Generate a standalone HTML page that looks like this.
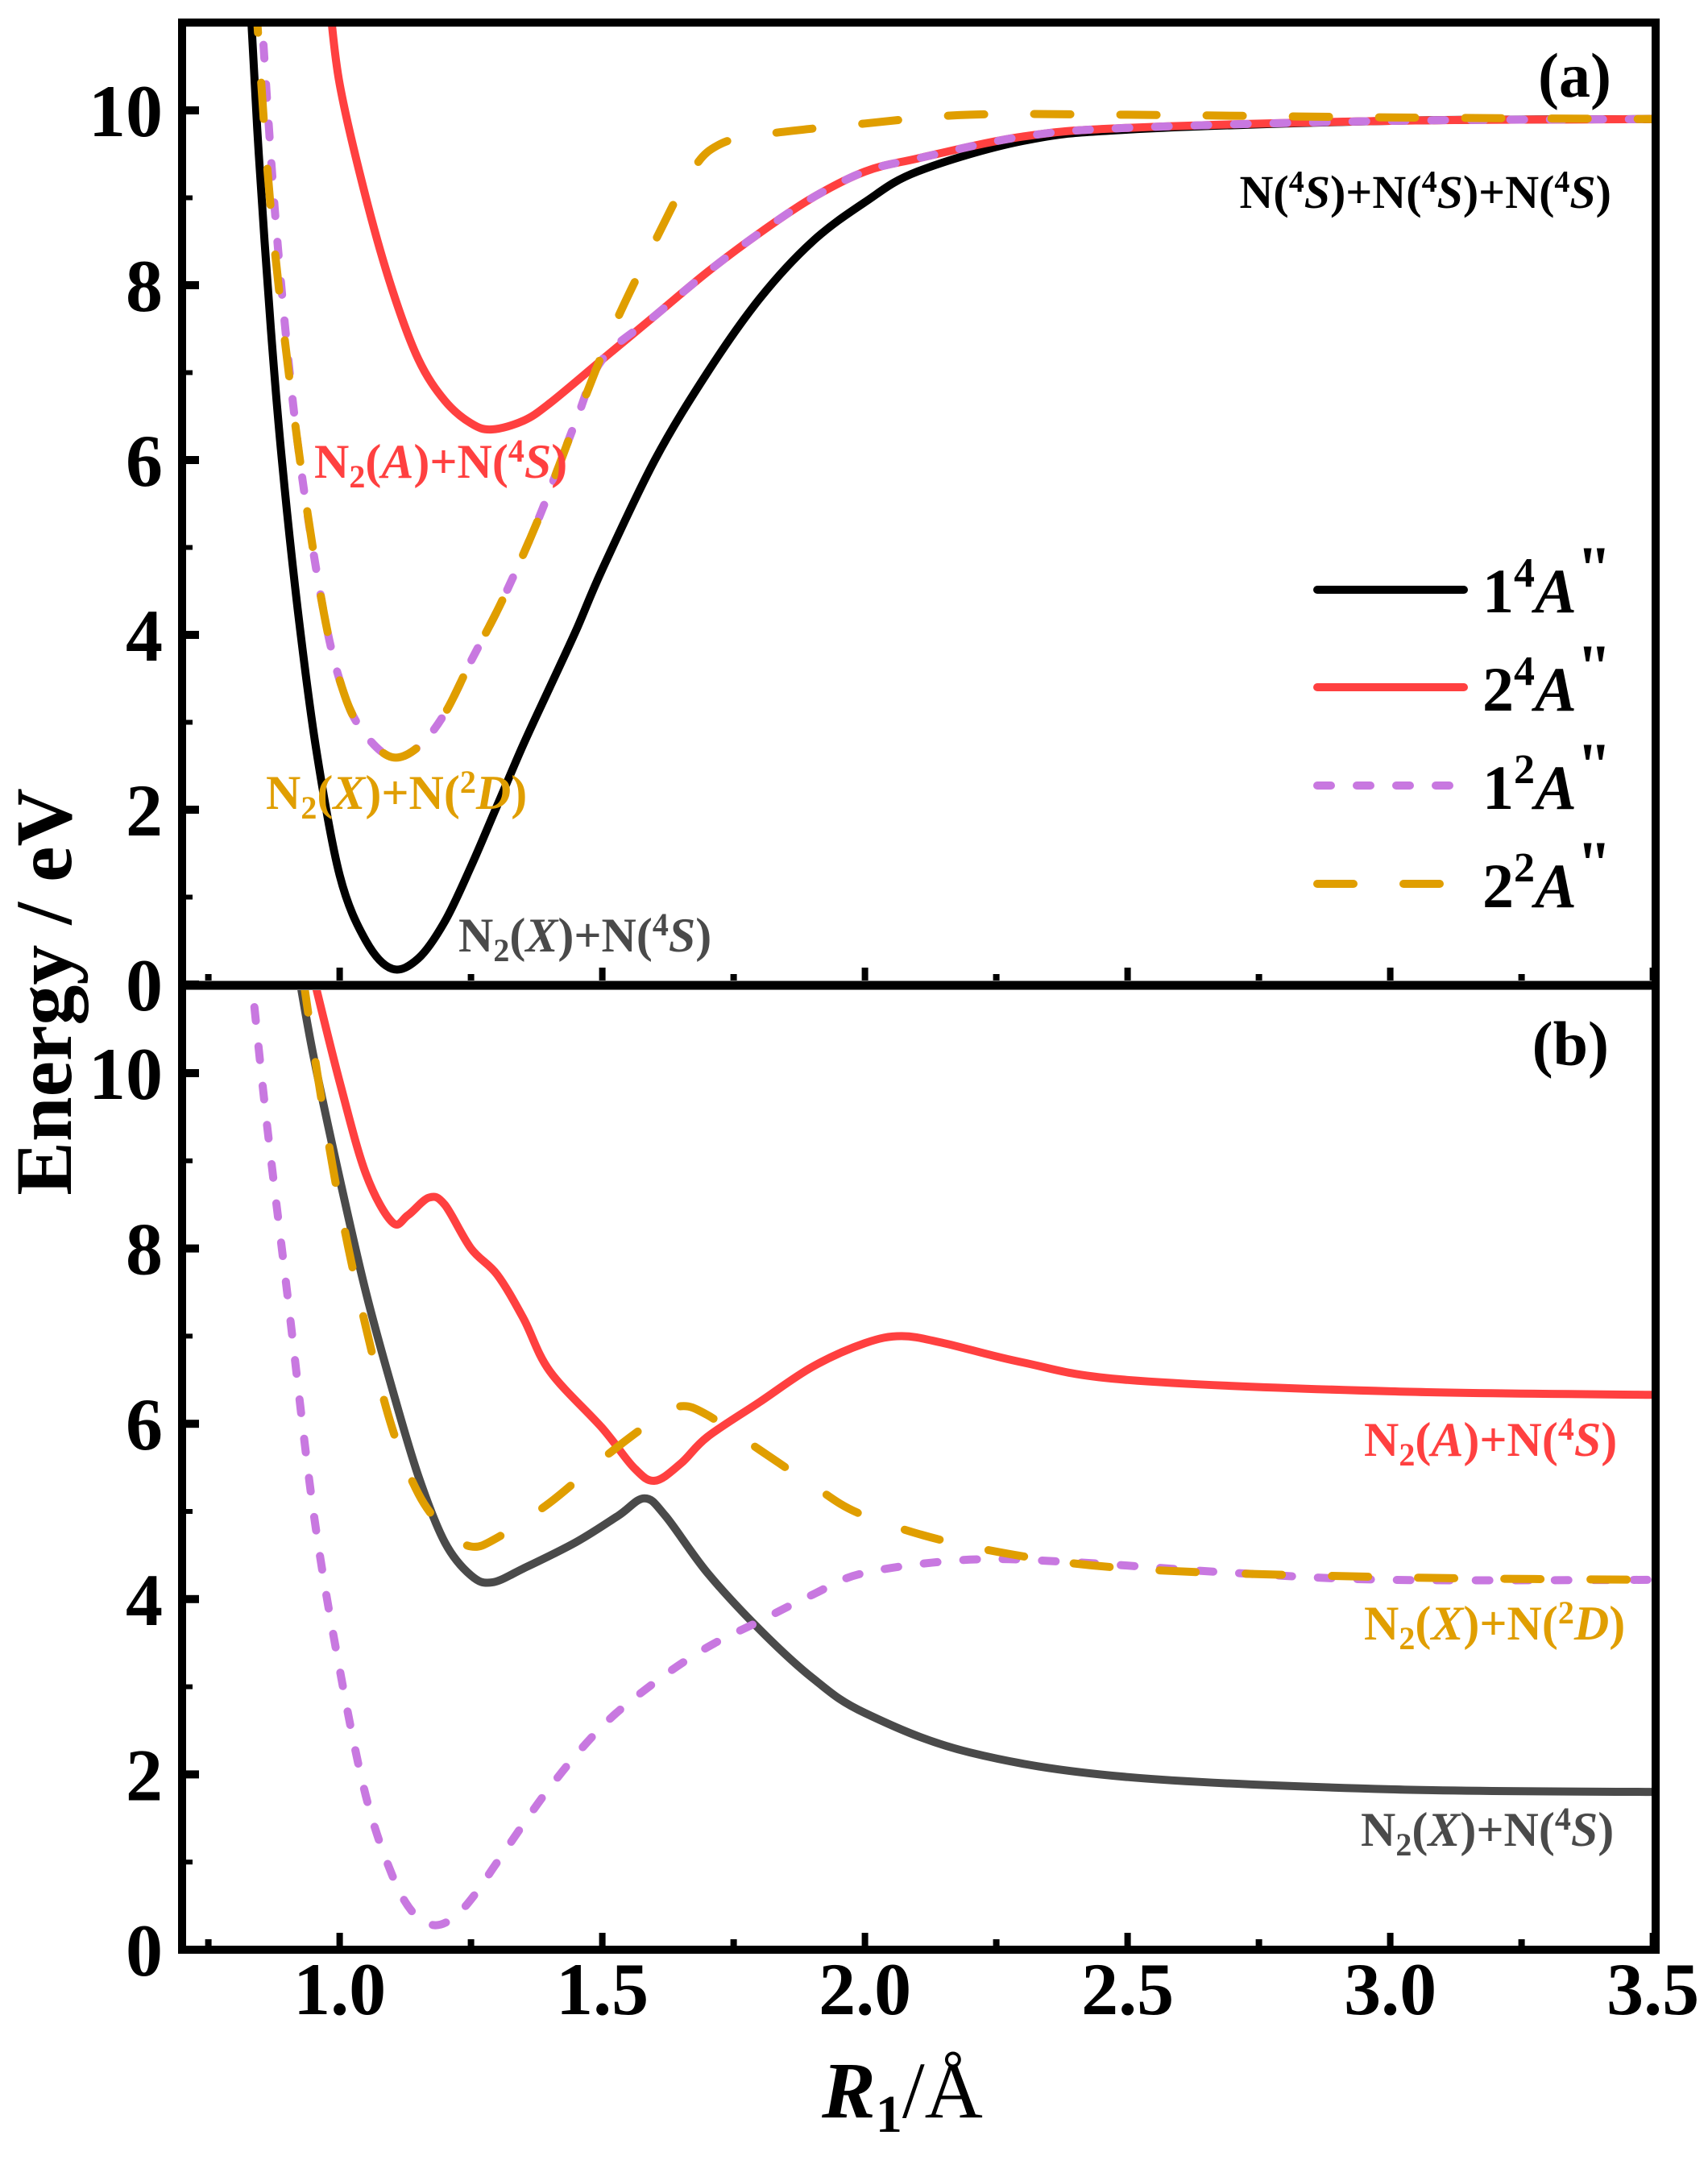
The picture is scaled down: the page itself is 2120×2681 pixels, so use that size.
<!DOCTYPE html>
<html><head><meta charset="utf-8"><style>
html,body{margin:0;padding:0;background:#fff;}
svg{display:block;}
text{font-family:"Liberation Serif","Times New Roman",serif;font-weight:bold;}
</style></head><body>
<svg id="chart" width="2120" height="2681" viewBox="0 0 2120 2681" xmlns="http://www.w3.org/2000/svg">
<defs>
<clipPath id="clipA"><rect x="231" y="33" width="1819" height="1184"/></clipPath>
<clipPath id="clipB"><rect x="231" y="1229" width="1819" height="1185"/></clipPath>
</defs>
<g id="gA" clip-path="url(#clipA)"></g>
<g id="gB" clip-path="url(#clipB)"></g>
<g id="axes"></g>
<rect x="226" y="28" width="1829" height="2392" fill="none" stroke="#000" stroke-width="10"/>
<line x1="226" y1="1223" x2="2055" y2="1223" stroke="#000" stroke-width="11"/>

<text x="2000" y="120" font-size="78" text-anchor="end">(a)</text>
<text x="1997" y="1322" font-size="78" text-anchor="end">(b)</text>

<text x="2000" y="258" font-size="58" text-anchor="end">N(<tspan font-size="38" dy="-20">4</tspan><tspan dy="20" font-style="italic">S</tspan>)+N(<tspan font-size="38" dy="-20">4</tspan><tspan dy="20" font-style="italic">S</tspan>)+N(<tspan font-size="38" dy="-20">4</tspan><tspan dy="20" font-style="italic">S</tspan>)</text>

<text x="390" y="593" font-size="60" fill="#ff4040">N<tspan font-size="40" dy="12">2</tspan><tspan dy="-12">(</tspan><tspan font-style="italic">A</tspan>)+N(<tspan font-size="40" dy="-20">4</tspan><tspan dy="20" font-style="italic">S</tspan>)</text>
<text x="330" y="1004" font-size="60" fill="#e09e00">N<tspan font-size="40" dy="12">2</tspan><tspan dy="-12">(</tspan><tspan font-style="italic">X</tspan>)+N(<tspan font-size="40" dy="-20">2</tspan><tspan dy="20" font-style="italic">D</tspan>)</text>
<text x="569" y="1181" font-size="60" fill="#4a4a4a">N<tspan font-size="40" dy="12">2</tspan><tspan dy="-12">(</tspan><tspan font-style="italic">X</tspan>)+N(<tspan font-size="40" dy="-20">4</tspan><tspan dy="20" font-style="italic">S</tspan>)</text>

<text x="1693" y="1807" font-size="60" fill="#ff4040">N<tspan font-size="40" dy="12">2</tspan><tspan dy="-12">(</tspan><tspan font-style="italic">A</tspan>)+N(<tspan font-size="40" dy="-20">4</tspan><tspan dy="20" font-style="italic">S</tspan>)</text>
<text x="1693" y="2035" font-size="60" fill="#e09e00">N<tspan font-size="40" dy="12">2</tspan><tspan dy="-12">(</tspan><tspan font-style="italic">X</tspan>)+N(<tspan font-size="40" dy="-20">2</tspan><tspan dy="20" font-style="italic">D</tspan>)</text>
<text x="1689" y="2291" font-size="60" fill="#4a4a4a">N<tspan font-size="40" dy="12">2</tspan><tspan dy="-12">(</tspan><tspan font-style="italic">X</tspan>)+N(<tspan font-size="40" dy="-20">4</tspan><tspan dy="20" font-style="italic">S</tspan>)</text>

<g>
<line x1="1635" y1="732" x2="1817" y2="732" stroke="#000" stroke-width="10" stroke-linecap="round"/>
<line x1="1635" y1="853" x2="1817" y2="853" stroke="#ff4040" stroke-width="10" stroke-linecap="round"/>
<line x1="1635" y1="975" x2="1817" y2="975" stroke="#c878e0" stroke-width="10" stroke-linecap="round" stroke-dasharray="17 32"/>
<line x1="1635" y1="1097" x2="1817" y2="1097" stroke="#e09e00" stroke-width="10" stroke-linecap="round" stroke-dasharray="45 62"/>
<text x="1840" y="760" font-size="78">1<tspan font-size="52" dy="-32">4</tspan><tspan dy="32" font-style="italic">A</tspan><tspan dy="-28">"</tspan></text>
<text x="1840" y="882" font-size="78">2<tspan font-size="52" dy="-32">4</tspan><tspan dy="32" font-style="italic">A</tspan><tspan dy="-28">"</tspan></text>
<text x="1840" y="1004" font-size="78">1<tspan font-size="52" dy="-32">2</tspan><tspan dy="32" font-style="italic">A</tspan><tspan dy="-28">"</tspan></text>
<text x="1840" y="1126" font-size="78">2<tspan font-size="52" dy="-32">2</tspan><tspan dy="32" font-style="italic">A</tspan><tspan dy="-28">"</tspan></text>
</g>

<text transform="translate(88,1231) rotate(-90)" font-size="100" text-anchor="middle">Energy / eV</text>
<text x="1120" y="2628" font-size="100" text-anchor="middle"><tspan font-style="italic">R</tspan><tspan font-size="66" dy="18">1</tspan><tspan dy="-18" font-weight="normal">/Å</tspan></text>
</svg>
<script>
// ---- data ----
const xTicks = [1.0, 1.5, 2.0, 2.5, 3.0, 3.5];
const xTickLabels = ["1.0", "1.5", "2.0", "2.5", "3.0", "3.5"];
const yTicks = [0, 2, 4, 6, 8, 10];
const yTickLabels = ["0", "2", "4", "6", "8", "10"];

// Panel (a)
const aBlackR = [0.832,0.846,0.869,0.89,0.92,0.955,1.0,1.05,1.1,1.15,1.2,1.25,1.3,1.35,1.4,1.45,1.5,1.6,1.7,1.8,1.9,2.0,2.1,2.3,2.5,3.0,3.5];
const aBlackE = [11.0,9.5,7.5,6.0,4.3,2.7,1.25,0.5,0.18,0.3,0.72,1.35,2.05,2.75,3.4,4.05,4.75,6.0,7.0,7.85,8.5,8.95,9.3,9.65,9.78,9.88,9.9];
const aRedR = [0.98,1.0,1.05,1.1,1.15,1.2,1.25,1.29,1.35,1.4,1.5,1.6,1.7,1.8,1.9,2.0,2.1,2.3,2.5,3.0,3.5];
const aRedE = [11.3,10.3,9.0,7.95,7.15,6.68,6.42,6.35,6.45,6.65,7.15,7.65,8.15,8.6,9.0,9.3,9.45,9.7,9.8,9.88,9.9];
const aPurpleR = [0.85,0.88,0.92,0.97,1.01,1.05,1.1,1.15,1.2,1.25,1.31,1.38,1.45,1.5,1.6,1.7,1.8,1.9,2.0,2.1,2.3,2.5,3.0,3.5];
const aPurpleE = [11.2,8.6,6.2,4.25,3.3,2.85,2.6,2.72,3.1,3.7,4.4,5.35,6.45,7.15,7.65,8.15,8.6,9.0,9.3,9.45,9.7,9.8,9.88,9.9];
const aOrangeR = [0.84,0.87,0.92,0.97,1.01,1.05,1.1,1.15,1.2,1.25,1.31,1.38,1.45,1.52,1.6,1.67,1.72,1.8,2.0,2.2,2.5,3.0,3.5];
const aOrangeE = [11.3,8.8,6.2,4.25,3.3,2.85,2.6,2.72,3.1,3.7,4.4,5.35,6.45,7.5,8.5,9.3,9.6,9.72,9.85,9.95,9.95,9.92,9.9];

// Panel (b)
const bBlackR = [0.92,0.95,1.0,1.05,1.1,1.15,1.2,1.25,1.29,1.35,1.45,1.53,1.58,1.62,1.7,1.8,1.9,2.0,2.2,2.5,3.0,3.5];
const bBlackE = [11.2,10.2,8.8,7.5,6.4,5.4,4.65,4.27,4.19,4.35,4.65,4.95,5.15,4.95,4.3,3.65,3.1,2.7,2.25,1.97,1.83,1.8];
const bRedR = [0.95,1.0,1.05,1.1,1.13,1.17,1.2,1.25,1.3,1.35,1.4,1.5,1.56,1.6,1.65,1.7,1.8,1.9,2.0,2.07,2.15,2.3,2.5,3.0,3.5];
const bRedE = [11.1,9.9,8.85,8.3,8.38,8.58,8.5,8.0,7.7,7.2,6.6,5.95,5.5,5.35,5.55,5.85,6.25,6.65,6.92,7.0,6.92,6.7,6.5,6.37,6.33];
const bOrangeR = [0.93,0.96,1.0,1.05,1.1,1.15,1.2,1.25,1.3,1.4,1.5,1.6,1.65,1.7,1.8,1.9,2.0,2.2,2.5,3.0,3.5];
const bOrangeE = [11.1,9.9,8.5,7.1,5.95,5.2,4.8,4.6,4.7,5.1,5.6,6.05,6.2,6.1,5.7,5.3,4.95,4.6,4.35,4.25,4.22];
const bPurpleR = [0.83,0.86,0.9,0.95,1.0,1.05,1.1,1.14,1.18,1.22,1.26,1.3,1.4,1.5,1.6,1.7,1.8,1.9,2.0,2.2,2.4,2.7,3.0,3.5];
const bPurpleE = [11.2,9.5,7.5,5.0,3.2,1.75,0.85,0.42,0.28,0.38,0.65,1.0,1.85,2.55,3.05,3.45,3.75,4.05,4.3,4.45,4.42,4.3,4.22,4.22];

// ---- scales ----
const X0 = 226, XPX = 652, XMIN = 0.7;
function xs(v){ return X0 + (v - XMIN) * XPX; }
function ysA(v){ return 1222 - v * 108.5; }
function ysB(v){ return 2420 - v * 108.8; }

const NS = "http://www.w3.org/2000/svg";
function pathD(R, E, ys){
  const p = R.map((r,i)=>[xs(r), ys(E[i])]);
  let d = "M" + p[0][0].toFixed(1) + "," + p[0][1].toFixed(1);
  for (let i=0;i<p.length-1;i++){
    const p0 = p[Math.max(0,i-1)], p1 = p[i], p2 = p[i+1], p3 = p[Math.min(p.length-1,i+2)];
    const c1x = p1[0] + (p2[0]-p0[0])/6, c1y = p1[1] + (p2[1]-p0[1])/6;
    const c2x = p2[0] - (p3[0]-p1[0])/6, c2y = p2[1] - (p3[1]-p1[1])/6;
    d += " C" + c1x.toFixed(1)+","+c1y.toFixed(1)+" "+c2x.toFixed(1)+","+c2y.toFixed(1)+" "+p2[0].toFixed(1)+","+p2[1].toFixed(1);
  }
  return d;
}
function addCurve(g, R, E, ys, color, dash, name){
  const el = document.createElementNS(NS, "path");
  el.setAttribute("d", pathD(R, E, ys));
  el.setAttribute("fill", "none");
  el.setAttribute("stroke", color);
  el.setAttribute("stroke-width", "10");
  el.setAttribute("stroke-linecap", "round");
  el.setAttribute("stroke-linejoin", "round");
  if (dash) el.setAttribute("stroke-dasharray", dash);
  
  
  g.appendChild(el);
}
const gA = document.getElementById("gA"), gB = document.getElementById("gB");
addCurve(gA, aBlackR, aBlackE, ysA, "#000", null, "curve-a-1-4a");
addCurve(gA, aRedR, aRedE, ysA, "#ff4040", null, "curve-a-2-4a");
addCurve(gA, aPurpleR, aPurpleE, ysA, "#c878e0", "17 32", "curve-a-1-2a");
addCurve(gA, aOrangeR, aOrangeE, ysA, "#e09e00", "45 62", "curve-a-2-2a");
addCurve(gB, bBlackR, bBlackE, ysB, "#4a4a4a", null, "curve-b-1-4a");
addCurve(gB, bRedR, bRedE, ysB, "#ff4040", null, "curve-b-2-4a");
addCurve(gB, bPurpleR, bPurpleE, ysB, "#c878e0", "17 32", "curve-b-1-2a");
addCurve(gB, bOrangeR, bOrangeE, ysB, "#e09e00", "45 62", "curve-b-2-2a");

// ---- axes ----
const ax = document.getElementById("axes");
function line(x1,y1,x2,y2,w,name){
  const l = document.createElementNS(NS,"line");
  l.setAttribute("x1",x1); l.setAttribute("y1",y1); l.setAttribute("x2",x2); l.setAttribute("y2",y2);
  l.setAttribute("stroke","#000"); l.setAttribute("stroke-width",w);
  
  
  ax.appendChild(l);
}
function text(x,y,s,anchor,name){
  const t = document.createElementNS(NS,"text");
  t.setAttribute("x",x); t.setAttribute("y",y); t.setAttribute("font-size","92");
  t.setAttribute("text-anchor",anchor); t.textContent = s;
  
  
  ax.appendChild(t);
}
[[1217, ysA], [2415, ysB]].forEach(([base, ys], pi)=>{
  xTicks.forEach(v=>{ line(xs(v), base, xs(v), base-16, 8, "x-major-tick"); });
  xTicks.forEach(v=>{ const m = v-0.25; if (m>0.7) line(xs(m), base, xs(m), base-8, 8, "x-minor-tick"); });
  yTicks.forEach((v,i)=>{
    line(231, ys(v), 247, ys(v), 10, "y-major-tick");
    line(231, ys(v+1), 239, ys(v+1), 6, "y-minor-tick");
    text(202, ys(v)+32, yTickLabels[i], "end", "y-tick-label");
  });
});
xTicks.forEach((v,i)=>{ text(xs(v), 2500, xTickLabels[i], "middle", "x-tick-label"); });
</script>
</body></html>
